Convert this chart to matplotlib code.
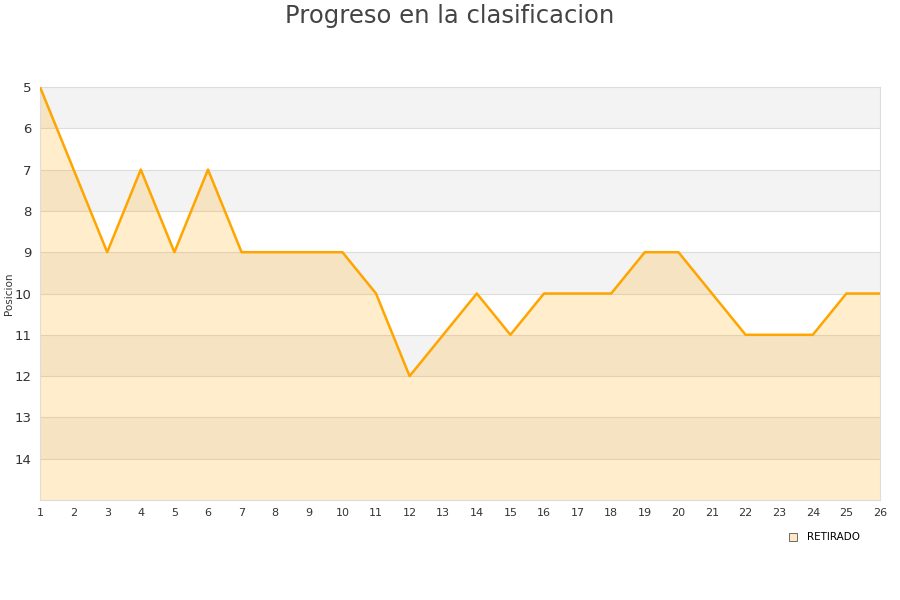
import matplotlib
matplotlib.use("Agg")
import matplotlib.pyplot as plt
from matplotlib.patches import Rectangle

jornadas = list(range(1, 27))
posiciones = [5, 7, 9, 7, 9, 7, 9, 9, 9, 9, 10, 12, 11, 10, 11, 10, 10, 10, 9, 9, 10, 11, 11, 11, 10, 10]
y_ticks = list(range(5, 15))
serie = "RETIRADO"
titulo = "Progreso en la clasificacion"
ylabel = "Posicion"

fig = plt.figure(figsize=(9, 6), dpi=100)
ax = fig.add_axes([40/900, 1-500/600, 840/900, 413/600])

# alternating bands
for i, y0 in enumerate(range(5, 15)):
    if i % 2 == 0:
        ax.axhspan(y0, y0 + 1, color="#f3f3f3", zorder=0, lw=0)
for y in range(6, 15):
    ax.axhline(y, color="#dddddd", lw=0.8, zorder=1)

ax.fill_between(jornadas, posiciones, 15, color="#ffa500", alpha=0.2, lw=0, zorder=2)
ax.plot(jornadas, posiciones, color="#ffa500", lw=1.8, zorder=3)

ax.set_xlim(1, 26)
ax.set_ylim(15, 5)
ax.set_xticks(jornadas)
ax.set_yticks(y_ticks)
ax.tick_params(axis="x", length=0, labelsize=8, colors="#333333", pad=6)
ax.tick_params(axis="y", length=0, labelsize=9.5, colors="#333333", pad=6)
for s in ax.spines.values():
    s.set_color("#dddddd")
    s.set_linewidth(0.8)
ax.set_ylabel(ylabel, fontsize=7.5, color="#333333", labelpad=0)
ax.yaxis.set_label_coords(-26/840, 0.5)

fig.text(0.5, 1 - 16/600, titulo, ha="center", va="center", fontsize=17.5, color="#444444")

# legend
fig.patches.append(Rectangle((789/900, 1-541/600), 8/900, 8/600, transform=fig.transFigure,
                             facecolor="#ffe9c4", edgecolor="#555555", lw=0.6))
fig.text(807/900, 1-537/600, serie, ha="left", va="center", fontsize=7.5, color="#000000")

fig.savefig("out.png", dpi=100)
